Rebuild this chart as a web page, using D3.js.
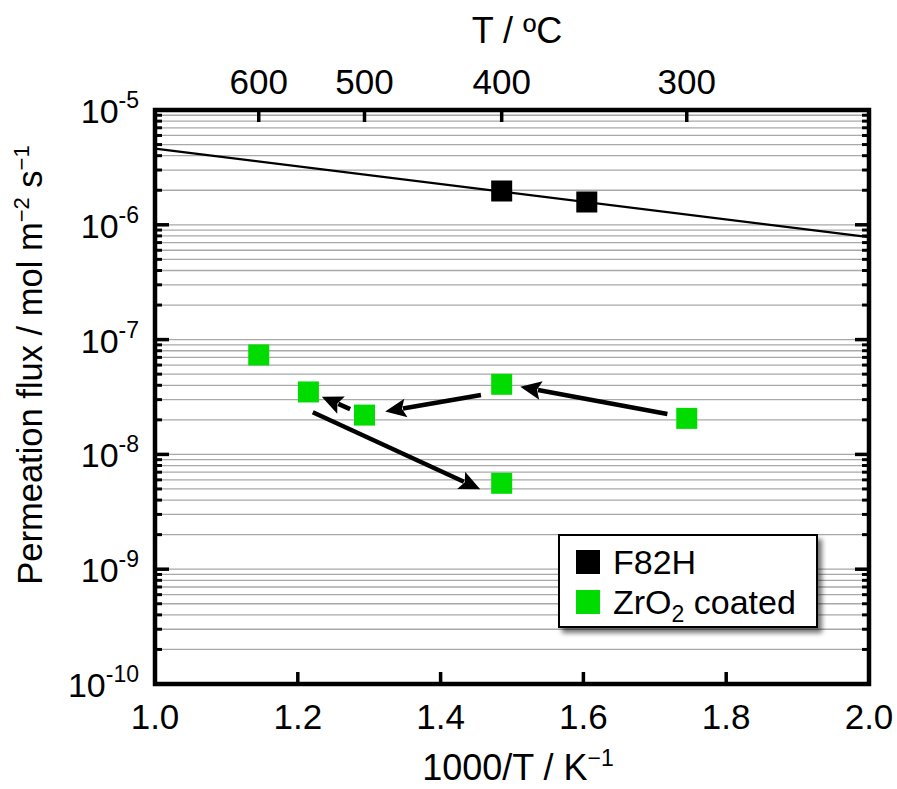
<!DOCTYPE html>
<html>
<head>
<meta charset="utf-8">
<script src="https://cdn.jsdelivr.net/npm/d3@7.9.0/dist/d3.min.js"></script>
<style>
  html, body { margin: 0; padding: 0; background: #fff; }
  svg { display: block; font-family: Arial, "Liberation Sans", sans-serif; }
</style>
</head>
<body>
<svg id="chart" width="897" height="789"></svg>
<script>
// ---- data ----
const f82hTemp = [400, 350];                 // deg C
const f82hFlux = [1.97e-6, 1.58e-6];         // mol m-2 s-1

const zrTemp = [600, 550, 500, 400, 300, 400];
const zrFlux = [7.35e-8, 3.5e-8, 2.2e-8, 4.08e-8, 2.06e-8, 5.6e-9];

// Arrhenius fit for bare F82H (1000/T, flux)
const fitX = [1.0, 2.0];
const fitFlux = [4.6e-6, 7.8e-7];

// arrows showing the measurement sequence (from -> to, data units)
const arrowFromX = [1.7176, 1.4565, 1.2733, 1.2210];
const arrowFromY = [2.25e-8, 3.29e-8, 2.48e-8, 2.33e-8];
const arrowToX = [1.5116, 1.3224, 1.2336, 1.4555];
const arrowToY = [3.89e-8, 2.36e-8, 3.18e-8, 4.97e-9];

const bottomTicks = [1.0, 1.2, 1.4, 1.6, 1.8, 2.0];
const topTicks = [600, 500, 400, 300];       // deg C
const yMajor = [1e-10, 1e-9, 1e-8, 1e-7, 1e-6, 1e-5];
const yExp = ['-10', '-9', '-8', '-7', '-6', '-5'];

const legendNames = ['F82H', 'ZrO2 coated'];
const legendColors = ['#000000', '#00dc00'];

// ---- layout ----
const pL = 155, pR = 869, pT = 110, pB = 684;
const invT = t => 1000 / (t + 273.15);

const x = d3.scaleLinear().domain([1, 2]).range([pL, pR]);
const y = d3.scaleLog().domain([1e-10, 1e-5]).range([pB, pT]);

const svg = d3.select('#chart');

const defs = svg.append('defs');
const shadow = defs.append('filter').attr('id', 'shadow')
  .attr('x', '-10%').attr('y', '-10%').attr('width', '130%').attr('height', '140%');
shadow.append('feDropShadow')
  .attr('dx', 4).attr('dy', 5).attr('stdDeviation', 2.5)
  .attr('flood-color', '#000').attr('flood-opacity', 0.55);

// minor values for grid + ticks
const minorVals = [];
yMajor.slice(0, -1).forEach(m => {
  for (let k = 1; k <= 9; k++) minorVals.push(m * k);
});
minorVals.push(1e-5);

// grid lines
svg.append('g').selectAll('line')
  .data(minorVals)
  .join('line')
  .attr('x1', pL).attr('x2', pR)
  .attr('y1', d => y(d)).attr('y2', d => y(d))
  .attr('stroke', '#a8a8a8')
  .attr('stroke-width', 1.3);

// fit line
const plot = svg.append('g');
plot.append('line')
  .attr('x1', x(fitX[0])).attr('y1', y(fitFlux[0]))
  .attr('x2', x(fitX[1])).attr('y2', y(fitFlux[1]))
  .attr('stroke', '#000').attr('stroke-width', 2.2);

// arrows
const arrows = arrowFromX.map((d, i) => ({
  x1: x(d), y1: y(arrowFromY[i]), x2: x(arrowToX[i]), y2: y(arrowToY[i])
}));
const headLen = 21, headHalf = 9.5;
arrows.forEach(a => {
  const ang = Math.atan2(a.y2 - a.y1, a.x2 - a.x1);
  const c = Math.cos(ang), s = Math.sin(ang);
  const bx = a.x2 - headLen * c, by = a.y2 - headLen * s;
  plot.append('line')
    .attr('x1', a.x1).attr('y1', a.y1)
    .attr('x2', bx + 3 * c).attr('y2', by + 3 * s)
    .attr('stroke', '#000').attr('stroke-width', 4.5);
  plot.append('path')
    .attr('d', `M${a.x2},${a.y2}L${bx - headHalf * s},${by + headHalf * c}L${bx + 4 * c},${by + 4 * s}L${bx + headHalf * s},${by - headHalf * c}Z`)
    .attr('fill', '#000');
});

// markers
const sq = 21;
plot.selectAll('rect.zr')
  .data(zrTemp.map((t, i) => [invT(t), zrFlux[i]]))
  .join('rect')
  .attr('class', 'zr')
  .attr('x', d => x(d[0]) - sq / 2).attr('y', d => y(d[1]) - sq / 2)
  .attr('width', sq).attr('height', sq)
  .attr('fill', legendColors[1]);

plot.selectAll('rect.f82h')
  .data(f82hTemp.map((t, i) => [invT(t), f82hFlux[i]]))
  .join('rect')
  .attr('class', 'f82h')
  .attr('x', d => x(d[0]) - sq / 2).attr('y', d => y(d[1]) - sq / 2)
  .attr('width', sq).attr('height', sq)
  .attr('fill', legendColors[0]);

// ticks
const tk = svg.append('g').attr('stroke', '#000');
minorVals.forEach(v => {
  const major = yMajor.includes(v);
  const len = major ? 14 : 7;
  const w = major ? 3.5 : 3;
  tk.append('line').attr('x1', pL).attr('x2', pL + len)
    .attr('y1', y(v)).attr('y2', y(v)).attr('stroke-width', w);
  tk.append('line').attr('x1', pR).attr('x2', pR - len)
    .attr('y1', y(v)).attr('y2', y(v)).attr('stroke-width', w);
});
bottomTicks.slice(1, -1).forEach(v => {
  tk.append('line').attr('x1', x(v)).attr('x2', x(v))
    .attr('y1', pB).attr('y2', pB - 12).attr('stroke-width', 3.5);
});
topTicks.forEach(t => {
  tk.append('line').attr('x1', x(invT(t))).attr('x2', x(invT(t)))
    .attr('y1', pT).attr('y2', pT + 12).attr('stroke-width', 3.5);
});

// frame
svg.append('rect')
  .attr('x', pL).attr('y', pT)
  .attr('width', pR - pL).attr('height', pB - pT)
  .attr('fill', 'none').attr('stroke', '#000').attr('stroke-width', 4.5);

// tick labels
const fs = 35;
svg.append('g').selectAll('text')
  .data(bottomTicks)
  .join('text')
  .attr('x', d => x(d)).attr('y', 729)
  .attr('text-anchor', 'middle')
  .attr('font-size', fs)
  .text(d => d.toFixed(1));

svg.append('g').selectAll('text')
  .data(topTicks)
  .join('text')
  .attr('x', d => x(invT(d))).attr('y', 94)
  .attr('text-anchor', 'middle')
  .attr('font-size', fs)
  .text(d => d);

const yl = svg.append('g').selectAll('text')
  .data(yMajor)
  .join('text')
  .attr('x', 139).attr('y', d => y(d) + 13)
  .attr('text-anchor', 'end')
  .attr('font-size', 34);
yl.append('tspan').text('10');
yl.append('tspan').attr('dy', -15).attr('font-size', 23).text((d, i) => yExp[i]);

// axis titles
const bt = svg.append('text').attr('x', 518).attr('y', 780)
  .attr('text-anchor', 'middle').attr('font-size', 36);
bt.append('tspan').text('1000/T / K');
bt.append('tspan').attr('dy', -14).attr('font-size', 23).text('\u22121');

svg.append('text').attr('x', 517).attr('y', 43)
  .attr('text-anchor', 'middle').attr('font-size', 36)
  .text('T / \u00baC');

const yt = svg.append('text')
  .attr('transform', 'translate(42,365) rotate(-90)')
  .attr('text-anchor', 'middle').attr('font-size', 34.5);
yt.append('tspan').text('Permeation flux / mol m');
yt.append('tspan').attr('dy', -13).attr('font-size', 22).text('\u22122');
yt.append('tspan').attr('dy', 13).text(' s');
yt.append('tspan').attr('dy', -13).attr('font-size', 22).text('\u22121');

// legend
const lg = svg.append('g');
lg.append('rect')
  .attr('x', 559).attr('y', 535).attr('width', 258).attr('height', 92)
  .attr('fill', '#fff').attr('stroke', '#000').attr('stroke-width', 2)
  .attr('filter', 'url(#shadow)');
legendNames.forEach((name, i) => {
  const cy = 562 + i * 40;
  lg.append('rect')
    .attr('x', 576).attr('y', cy - 12).attr('width', 24).attr('height', 24)
    .attr('fill', legendColors[i]);
  const t = lg.append('text').attr('x', 613).attr('y', cy + 12).attr('font-size', 34);
  if (name.startsWith('ZrO2')) {
    t.append('tspan').text('ZrO');
    t.append('tspan').attr('dy', 8).attr('font-size', 23).text('2');
    t.append('tspan').attr('dy', -8).text(' coated');
  } else {
    t.text(name);
  }
});
</script>
</body>
</html>
